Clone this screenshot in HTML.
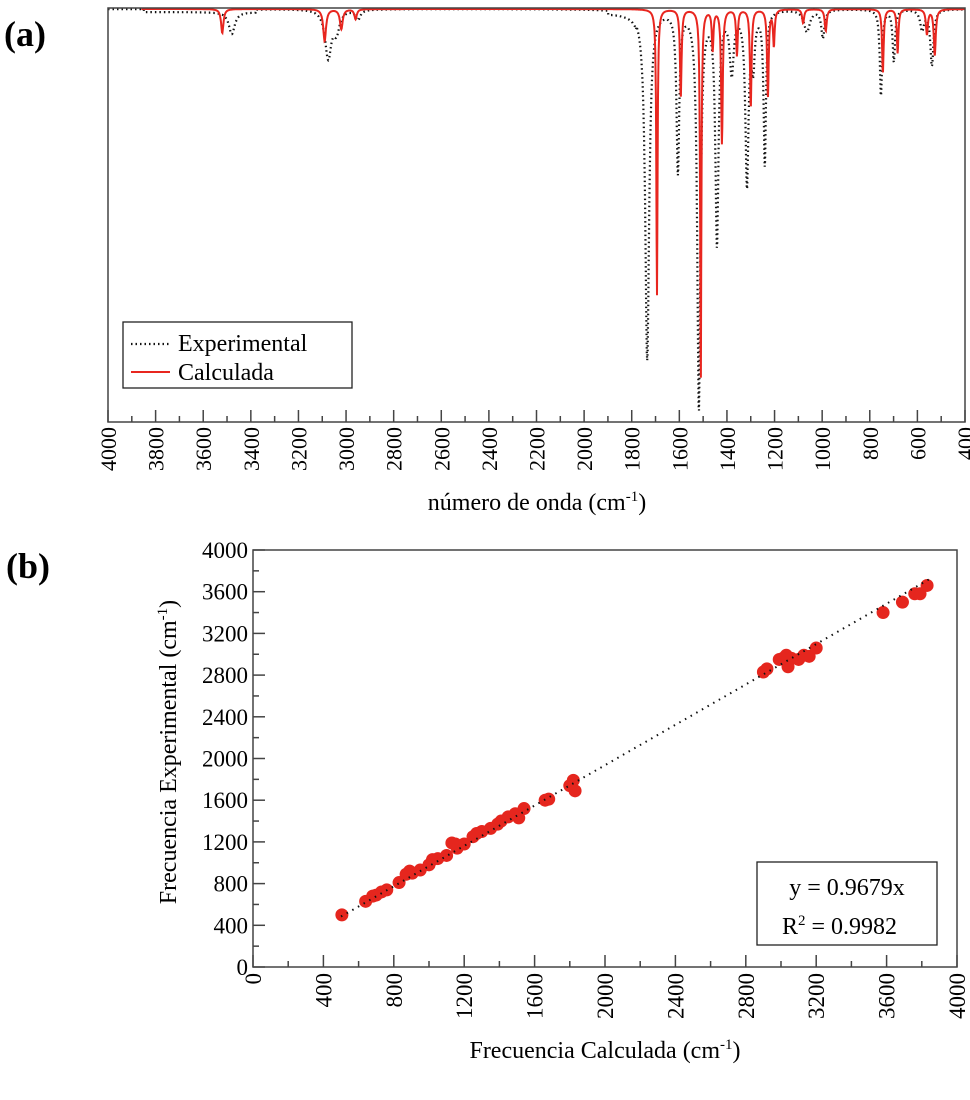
<!DOCTYPE html>
<html><head><meta charset="utf-8"><style>
body{margin:0;background:#fff;width:970px;height:1100px;overflow:hidden}
svg{display:block;font-family:"Liberation Serif",serif}
</style></head><body>
<svg id="s" width="970" height="1100" xmlns="http://www.w3.org/2000/svg">
<text x="4" y="46" font-size="36" font-weight="bold">(a)</text>
<text x="6" y="578" font-size="36" font-weight="bold">(b)</text>
<g id="gtop"></g><g id="gbot"></g>
</svg>
<script>
(function(){
const NS="http://www.w3.org/2000/svg";
function el(p,t,a,txt){const e=document.createElementNS(NS,t);for(const k in a)e.setAttribute(k,a[k]);if(txt!==undefined)e.textContent=txt;p.appendChild(e);return e;}
const gTop=document.getElementById('gtop'),gBot=document.getElementById('gbot');
const L=108,R=965,T=8,B=422;
const X=w=>L+(4000-w)*(R-L)/3600;
function spec(peaks,base,start){let d="";for(let w=start||4000;w>=400;w-=1.5){let a=0;for(const[c,dep,g]of peaks){a+=dep*g*g/((w-c)*(w-c)+g*g);}if(base)a+=base(w);const y=Math.min(T+1+a,B);d+=(d?"L":"M")+X(w).toFixed(1)+","+y.toFixed(1);}return d;}
const blk=[[3480,22,15],[3075,48,16],[3040,20,15],[2950,10,12],[1735,350,10],[1606,160,7],[1518,398,8],[1442,232,8],[1316,172,8],[1241,154,6],[1064,22,15],[997,28,8],[753,86,6],[699,52,6],[539,56,8],[580,20,10],[1380,60,10],[1290,50,8]];
const red=[[3520,24,6],[3090,32,7],[3020,20,7],[2960,10,6],[1694,286,3],[1594,88,4],[1510,378,3],[1421,134,4],[1358,46,4],[1300,98,4],[1228,88,4],[1203,36,4],[1460,40,4],[1080,14,5],[985,22,5],[745,64,4],[683,44,4],[527,46,5],[560,25,5]];
el(gTop,'path',{d:spec(blk,w=>(w>3380&&w<3850?3:0)+(w<1900&&w>1780?4:0)),fill:'none',stroke:'#111','stroke-width':2.2,'stroke-dasharray':'1.5,3'});
el(gTop,'path',{d:spec(red,null,3860),fill:'none',stroke:'#e8261f','stroke-width':2});
el(gTop,'rect',{x:L,y:T,width:R-L,height:B-T,fill:'none',stroke:'#444','stroke-width':1.5});
for(let w=4000;w>=400;w-=100){const x=X(w),maj=w%200==0;el(gTop,'line',{x1:x,x2:x,y1:B,y2:B-(maj?12:6),stroke:'#444','stroke-width':1.5});
 if(maj){el(gTop,'text',{x:0,y:0,'font-size':22,transform:`translate(${x+8},${B+5}) rotate(-90)`,'text-anchor':'end'},w);}}
const tt=el(gTop,'text',{x:537,y:510,'font-size':24,'text-anchor':'middle'},'número de onda (cm');
el(tt,'tspan',{dy:-9,'font-size':15},'-1');el(tt,'tspan',{dy:9},')');
el(gTop,'rect',{x:123,y:322,width:229,height:66,fill:'#fff',stroke:'#222','stroke-width':1.3});
el(gTop,'line',{x1:131,x2:170,y1:344,y2:344,stroke:'#111','stroke-width':2.2,'stroke-dasharray':'1.5,3'});
el(gTop,'line',{x1:131,x2:170,y1:372,y2:372,stroke:'#e8261f','stroke-width':2});
el(gTop,'text',{x:178,y:351,'font-size':24},'Experimental');
el(gTop,'text',{x:178,y:380,'font-size':24},'Calculada');
const bL=253,bR=957,bT=550,bB=967;
const bx=v=>bL+v*(bR-bL)/4000,by=v=>bB-v*(bB-bT)/4000;
el(gBot,'rect',{x:bL,y:bT,width:bR-bL,height:bB-bT,fill:'none',stroke:'#444','stroke-width':1.5});
for(let v=0;v<=4000;v+=200){const maj=v%400==0;
 el(gBot,'line',{x1:bx(v),x2:bx(v),y1:bB,y2:bB-(maj?12:6),stroke:'#444','stroke-width':1.5});
 el(gBot,'line',{x1:bL,x2:bL+(maj?12:6),y1:by(v),y2:by(v),stroke:'#444','stroke-width':1.5});
 if(maj){el(gBot,'text',{x:0,y:0,'font-size':23,transform:`translate(${bx(v)+8},${bB+6}) rotate(-90)`,'text-anchor':'end'},v);
 el(gBot,'text',{x:bL-5,y:by(v)+8,'font-size':23,'text-anchor':'end'},v);}}
const pts=[[505,500],[640,630],[680,680],[700,690],[730,720],[760,740],[830,810],[870,890],[890,920],[905,900],[950,930],[1000,980],[1020,1030],[1050,1040],[1100,1070],[1130,1190],[1150,1180],[1160,1140],[1200,1180],[1250,1250],[1270,1280],[1300,1300],[1350,1330],[1390,1370],[1410,1400],[1450,1440],[1490,1470],[1510,1430],[1540,1520],[1660,1600],[1680,1610],[1800,1740],[1820,1790],[1830,1690],[2900,2830],[2920,2860],[2990,2950],[3010,2960],[3030,2990],[3040,2880],[3060,2960],[3100,2950],[3130,2990],[3160,2980],[3200,3060],[3580,3400],[3690,3500],[3760,3580],[3790,3580],[3830,3660]];
for(const[a,b]of pts)el(gBot,'circle',{cx:bx(a),cy:by(b),r:6.5,fill:'#e5261e'});
el(gBot,'line',{x1:bx(500),y1:by(484),x2:bx(3840),y2:by(3717),stroke:'#111','stroke-width':2,'stroke-dasharray':'1.5,5'});
el(gBot,'rect',{x:757,y:862,width:180,height:83,fill:'#fff',stroke:'#222','stroke-width':1.3});
el(gBot,'text',{x:847,y:895,'font-size':24,'text-anchor':'middle'},'y = 0.9679x');
const r2=el(gBot,'text',{x:782,y:934,'font-size':24},'R');el(r2,'tspan',{dy:-9,'font-size':15},'2');el(r2,'tspan',{dy:9},' = 0.9982');
const xl=el(gBot,'text',{x:605,y:1058,'font-size':24,'text-anchor':'middle'},'Frecuencia Calculada (cm');el(xl,'tspan',{dy:-9,'font-size':15},'-1');el(xl,'tspan',{dy:9},')');
const yl=el(gBot,'text',{x:0,y:0,'font-size':24,'text-anchor':'middle',transform:'translate(176,752) rotate(-90)'},'Frecuencia Experimental (cm');el(yl,'tspan',{dy:-9,'font-size':15},'-1');el(yl,'tspan',{dy:9},')');
})();
</script>
</body></html>
